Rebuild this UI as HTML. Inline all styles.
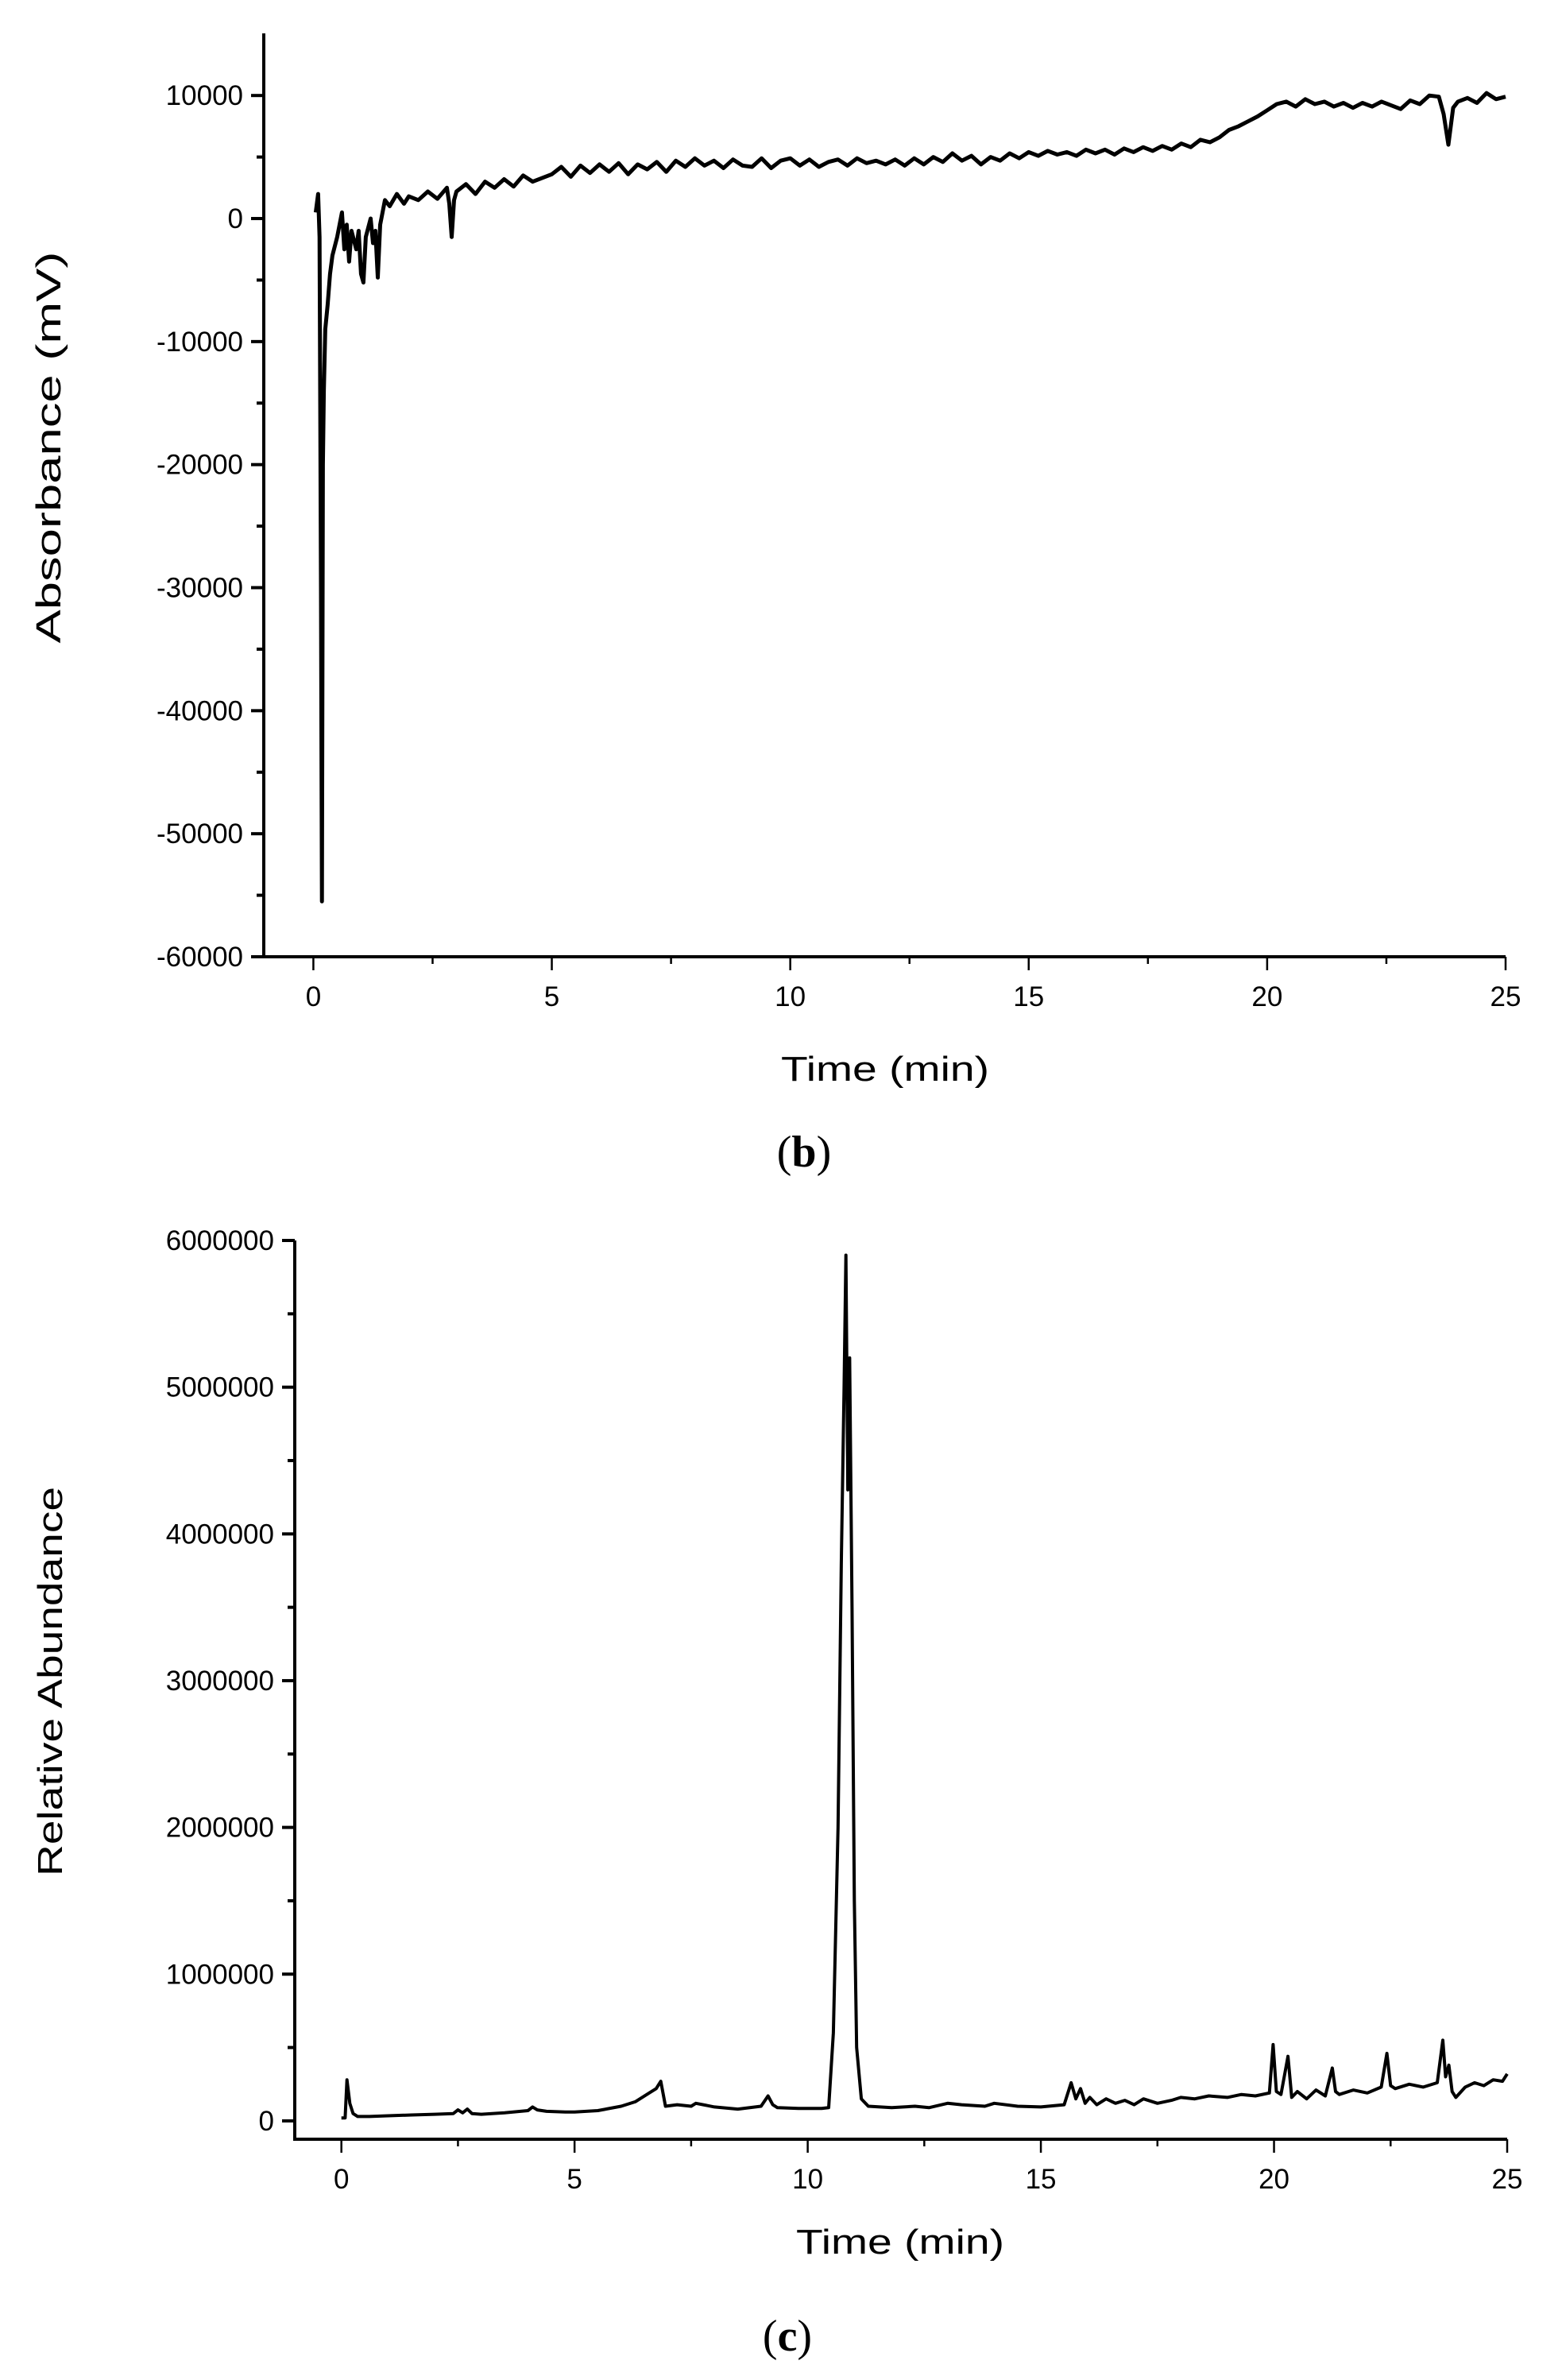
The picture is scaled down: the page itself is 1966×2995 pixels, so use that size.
<!DOCTYPE html>
<html><head><meta charset="utf-8"><style>
html,body{margin:0;padding:0;background:#fff;}
svg{display:block;font-family:"Liberation Sans",Arial,sans-serif;}
</style></head><body>
<svg id="fig" width="1966" height="2995" viewBox="0 0 1966 2995" xmlns="http://www.w3.org/2000/svg">
<g id="chartB"></g>
<g id="chartC"></g>
<text x="0" y="0" transform="translate(76,563) rotate(-90)" text-anchor="middle" font-size="44" textLength="493" lengthAdjust="spacingAndGlyphs">Absorbance (mV)</text>
<text x="1114" y="1360" text-anchor="middle" font-size="44" textLength="262" lengthAdjust="spacingAndGlyphs">Time (min)</text>
<text x="1012" y="1468" text-anchor="middle" font-size="56" font-family="Liberation Serif, serif">(<tspan font-weight="bold">b</tspan>)</text>
<text x="0" y="0" transform="translate(78,2116) rotate(-90)" text-anchor="middle" font-size="44" textLength="490" lengthAdjust="spacingAndGlyphs">Relative Abundance</text>
<text x="1133" y="2836" text-anchor="middle" font-size="44" textLength="262" lengthAdjust="spacingAndGlyphs">Time (min)</text>
<text x="991" y="2958" text-anchor="middle" font-size="56" font-family="Liberation Serif, serif">(<tspan font-weight="bold">c</tspan>)</text>
</svg>
<script>
// Chart (b) data
const bTimes = [0.05,0.1,0.13,0.16,0.18,0.2,0.22,0.25,0.3,0.35,0.4,0.5,0.6,0.65,0.7,0.75,0.8,0.9,0.95,1.0,1.05,1.1,1.2,1.25,1.3,1.35,1.4,1.5,1.6,1.75,1.9,2.0,2.2,2.4,2.6,2.8,2.85,2.9,2.95,3.0,3.2,3.4,3.6,3.8,4.0,4.2,4.4,4.6,4.8,5.0,5.2,5.4,5.6,5.8,6.0,6.2,6.4,6.6,6.8,7.0,7.2,7.4,7.6,7.8,8.0,8.2,8.4,8.6,8.8,9.0,9.2,9.4,9.6,9.8,10.0,10.2,10.4,10.6,10.8,11.0,11.2,11.4,11.6,11.8,12.0,12.2,12.4,12.6,12.8,13.0,13.2,13.4,13.6,13.8,14.0,14.2,14.4,14.6,14.8,15.0,15.2,15.4,15.6,15.8,16.0,16.2,16.4,16.6,16.8,17.0,17.2,17.4,17.6,17.8,18.0,18.2,18.4,18.6,18.8,19.0,19.2,19.4,19.6,19.8,20.0,20.2,20.4,20.6,20.8,21.0,21.2,21.4,21.6,21.8,22.0,22.2,22.4,22.6,22.8,23.0,23.2,23.4,23.6,23.7,23.8,23.9,24.0,24.2,24.4,24.6,24.8,25.0];
const bValues = [500,2000,-1500,-30000,-55500,-20000,-14000,-9000,-7000,-4500,-3000,-1500,500,-2500,-500,-3500,-1000,-2500,-1000,-4500,-5200,-1500,0,-2000,-1000,-4800,-500,1500,1000,2000,1200,1800,1500,2200,1600,2500,1200,-1500,1500,2200,2800,2000,3000,2500,3200,2600,3500,3000,3300,3600,4200,3400,4300,3700,4400,3800,4500,3600,4400,4000,4600,3800,4700,4200,4900,4300,4700,4100,4800,4300,4200,4900,4100,4700,4900,4300,4800,4200,4600,4800,4300,4900,4500,4700,4400,4800,4300,4900,4400,5000,4600,5300,4700,5100,4400,5000,4700,5300,4900,5400,5100,5500,5200,5400,5100,5600,5300,5600,5200,5700,5400,5800,5500,5900,5600,6100,5800,6400,6200,6600,7200,7500,7900,8300,8800,9300,9500,9100,9700,9300,9500,9100,9400,9000,9400,9100,9500,9200,8900,9600,9300,10000,9900,8500,6000,9000,9500,9800,9400,10200,9700,9900];
const bYTicks = [10000,0,-10000,-20000,-30000,-40000,-50000,-60000];
const bXTicks = [0,5,10,15,20,25];

// Chart (c) data
const cTimes = [0.0,0.08,0.12,0.18,0.25,0.35,0.6,1.0,1.5,2.0,2.4,2.5,2.6,2.7,2.8,3.0,3.5,4.0,4.1,4.2,4.4,4.8,5.0,5.5,6.0,6.3,6.6,6.75,6.85,6.95,7.2,7.5,7.6,8.0,8.5,9.0,9.15,9.25,9.35,9.8,10.3,10.45,10.55,10.65,10.72,10.78,10.82,10.86,10.9,10.95,11.0,11.05,11.15,11.3,11.8,12.3,12.6,13.0,13.3,13.8,14.0,14.5,15.0,15.5,15.65,15.75,15.85,15.95,16.05,16.2,16.4,16.6,16.8,17.0,17.2,17.5,17.8,18.0,18.3,18.6,19.0,19.3,19.6,19.9,19.98,20.05,20.15,20.3,20.38,20.5,20.7,20.9,21.1,21.25,21.32,21.4,21.7,22.0,22.3,22.42,22.5,22.6,22.9,23.2,23.5,23.62,23.68,23.75,23.82,23.9,24.1,24.3,24.5,24.7,24.9,25.0];
const cValues = [20000,20000,280000,120000,50000,30000,30000,35000,40000,45000,50000,75000,55000,80000,50000,45000,55000,70000,95000,75000,65000,60000,60000,70000,100000,130000,190000,220000,270000,100000,110000,100000,120000,95000,80000,100000,170000,110000,90000,85000,85000,90000,600000,2000000,3800000,5000000,5900000,4300000,5200000,3500000,1500000,500000,150000,100000,90000,100000,90000,120000,110000,100000,120000,100000,95000,110000,260000,150000,220000,120000,160000,110000,150000,120000,140000,110000,150000,120000,140000,160000,150000,170000,160000,180000,170000,190000,520000,200000,180000,440000,160000,200000,150000,210000,170000,360000,200000,180000,210000,190000,230000,460000,240000,220000,250000,230000,260000,550000,300000,380000,200000,160000,230000,260000,240000,280000,270000,320000];
const cYTicks = [0,1000000,2000000,3000000,4000000,5000000,6000000];
const cXTicks = [0,5,10,15,20,25];

const NS = 'http://www.w3.org/2000/svg';
function mk(tag, attrs, parent) {
  const e = document.createElementNS(NS, tag);
  for (const k in attrs) e.setAttribute(k, attrs[k]);
  parent.appendChild(e);
  return e;
}

function drawChart(g, cfg, times, values, yTicks, xTicks, prefix) {
  const xs = v => cfg.x0 + (v - cfg.xmin) / (cfg.xmax - cfg.xmin) * (cfg.x1 - cfg.x0);
  const ys = v => cfg.y1 - (v - cfg.ymin) / (cfg.ymax - cfg.ymin) * (cfg.y1 - cfg.y0);
  const ya = mk('line', {x1: cfg.x0, y1: cfg.y0, x2: cfg.x0, y2: cfg.y1 + 2, stroke: '#000', 'stroke-width': 4}, g);
  
  
  const xa = mk('line', {x1: cfg.x0 - 2, y1: cfg.y1, x2: cfg.x1, y2: cfg.y1, stroke: '#000', 'stroke-width': 4}, g);
  
  
  const ystep = yTicks[1] - yTicks[0];
  yTicks.forEach(v => {
    const y = ys(v);
    const t = mk('line', {x1: cfg.x0 - 16, y1: y, x2: cfg.x0, y2: y, stroke: '#000', 'stroke-width': 4}, g);
    
    
    const lb = mk('text', {x: cfg.x0 - 26, y: y + 12, 'text-anchor': 'end', 'font-size': 35}, g);
    lb.textContent = String(v);
    
    
    const mv = v + ystep / 2;
    if (mv >= cfg.ymin && mv <= cfg.ymax) {
      const m = mk('line', {x1: cfg.x0 - 9, y1: ys(mv), x2: cfg.x0, y2: ys(mv), stroke: '#000', 'stroke-width': 4}, g);
      
      
    }
  });
  xTicks.forEach(v => {
    const x = xs(v);
    const t = mk('line', {x1: x, y1: cfg.y1, x2: x, y2: cfg.y1 + 17, stroke: '#000', 'stroke-width': 2.5}, g);
    
    
    const lb = mk('text', {x: x, y: cfg.y1 + 62, 'text-anchor': 'middle', 'font-size': 35}, g);
    lb.textContent = String(v);
    
    
    const mv = v + 2.5;
    if (mv <= cfg.xmax) {
      const m = mk('line', {x1: xs(mv), y1: cfg.y1, x2: xs(mv), y2: cfg.y1 + 9, stroke: '#000', 'stroke-width': 2.5}, g);
      
      
    }
  });
  const n = Math.min(times.length, values.length);
  let d = '';
  for (let i = 0; i < n; i++) { d += (i ? 'L' : 'M') + xs(times[i]).toFixed(1) + ' ' + ys(values[i]).toFixed(1); }
  const p = mk('path', {d: d, fill: 'none', stroke: '#000', 'stroke-width': cfg.sw, 'stroke-linejoin': 'round'}, g);
  
  
}

drawChart(document.getElementById('chartB'),
  {x0: 332, x1: 1895, y0: 42, y1: 1204, xmin: -1.04, xmax: 25, ymin: -60000, ymax: 15050, sw: 5},
  bTimes, bValues, bYTicks, bXTicks, 'b');
drawChart(document.getElementById('chartC'),
  {x0: 371, x1: 1897, y0: 1561, y1: 2692, xmin: -1.0, xmax: 25, ymin: -125000, ymax: 6000000, sw: 4},
  cTimes, cValues, cYTicks, cXTicks, 'c');
</script>
</body></html>
